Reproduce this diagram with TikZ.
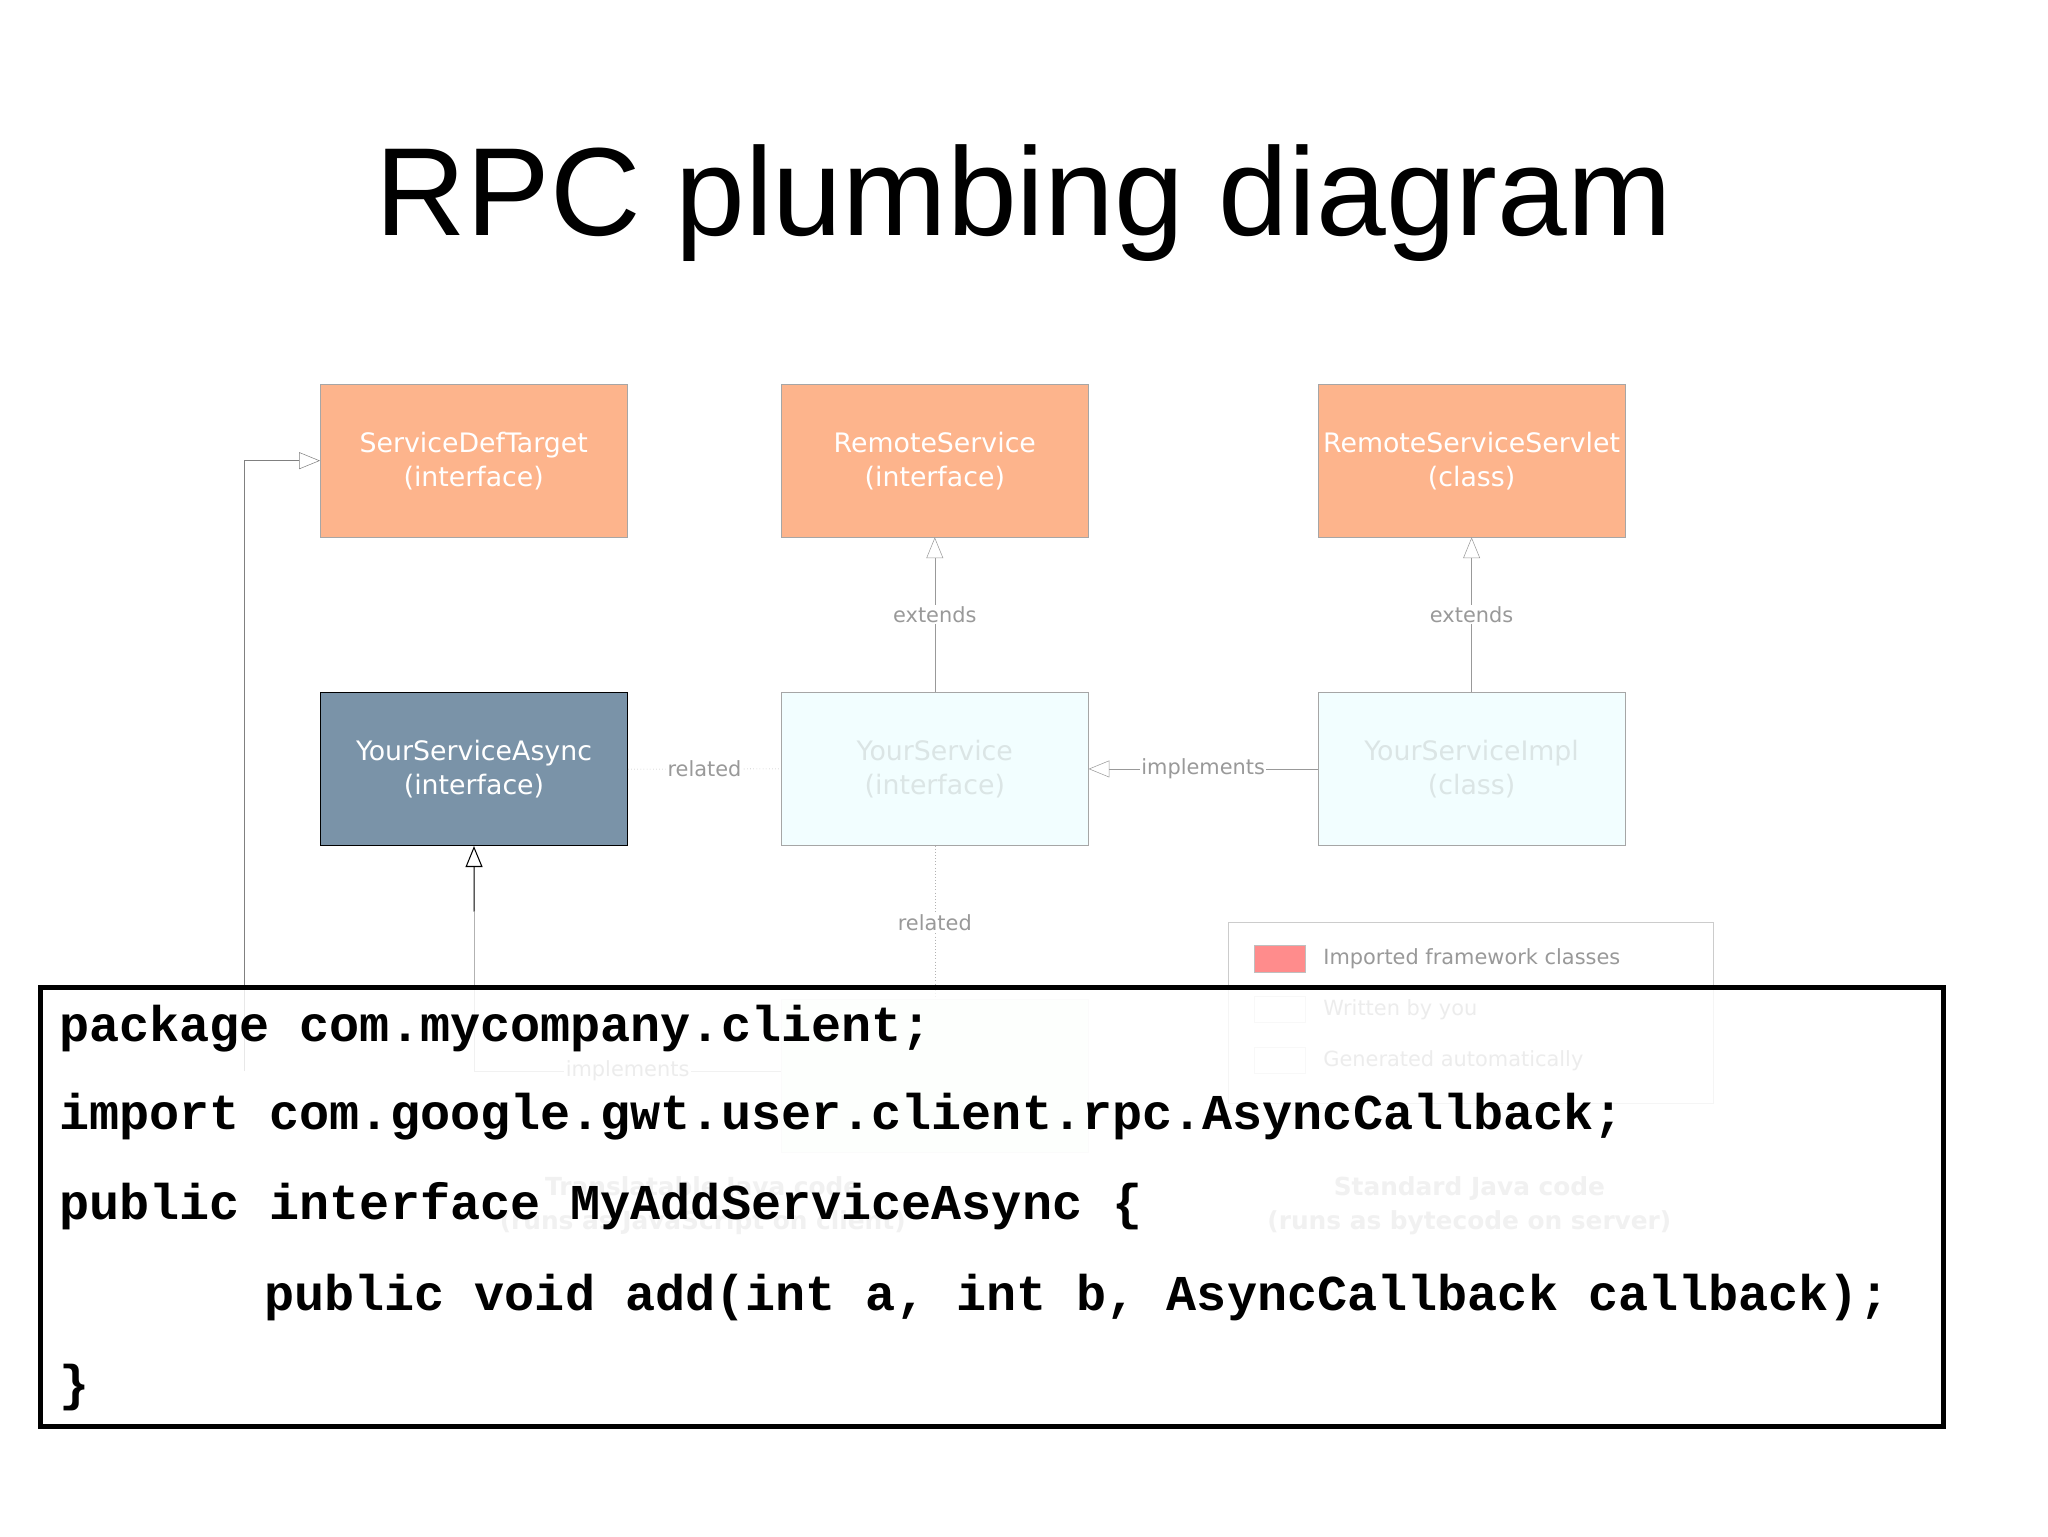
\documentclass[tikz,border=0pt]{standalone}
\usepackage{fontspec}
\setmainfont{Liberation Sans}
\newfontfamily\boxfont{DejaVu Sans}
\newfontfamily\codefont{Liberation Mono}
\usetikzlibrary{arrows.meta}
\definecolor{orng}{HTML}{FDB48C}
\definecolor{slate}{HTML}{7A93A8}
\definecolor{cyanl}{HTML}{F2FEFF}
\definecolor{txtg}{HTML}{999999}
\begin{document}
\begin{tikzpicture}[x=1pt,y=-1pt,
  cls/.style={draw=gray!70,minimum width=235pt,minimum height=117pt,inner sep=0pt,font=\boxfont\fontsize{20.5}{26}\selectfont,align=center,text=white,anchor=north west},
  imp/.style={cls,fill=orng},
  gen/.style={cls,fill=cyanl,text=cyanl!80!gray},
  lbl/.style={font=\boxfont\fontsize{16}{18}\selectfont,text=txtg,fill=white,inner sep=1pt},
  tri/.style={-{Triangle[open,length=16pt,width=13pt]}},
  code/.style={font=\codefont\bfseries\fontsize{38.4}{40}\selectfont,anchor=base west,inner sep=0pt}]
\useasboundingbox (0,0) rectangle (1568,1176);
\fill[white] (0,0) rectangle (1568,1176);
\node[font=\fontsize{96}{100}\selectfont,anchor=base] (title) at (784,180) {RPC plumbing diagram};
% row 1
\node[imp] (sdt) at (245,294) {ServiceDefTarget\\(interface)};
\node[imp] (rs) at (598,294) {RemoteService\\(interface)};
\node[imp] (rss) at (1009,294) {RemoteServiceServlet\\(class)};
% row 2
\node[cls,fill=slate,draw=black,thick] (ysa) at (245,530) {YourServiceAsync\\(interface)};
\node[gen] (ys) at (598,530) {YourService\\(interface)};
\node[gen] (ysi) at (1009,530) {YourServiceImpl\\(class)};
% row 3 (faint)
\node[cls,fill=green!3,draw=gray!15,text=white] (px) at (598,765) {};
% connectors
\draw[gray!80,tri] (ys.north) -- node[lbl]{extends} (rs.south);
\draw[gray!80,tri] (ysi.north) -- node[lbl]{extends} (rss.south);
\draw[gray!80,tri] (ysi.west) -- node[lbl]{implements} (ys.east);
\draw[gray!80,dotted] (ysa.east) -- node[lbl,pos=0.5]{related} (ys.west);
\draw[gray!60,dotted] (ys.south) -- node[lbl,pos=0.5]{related} (px.north);
\coordinate (c1) at (187,820);
\coordinate (c2) at (363,820);
\draw[gray,tri] (c1) |- (sdt.west);
\draw[black,thick,tri] (363,698) -- (ysa.south);
\draw[gray!60] (363,698) -- (c2) -- node[lbl]{implements} (px.west |- c2);
% legend
\draw[gray!40] (940,706) rectangle (1312,845);
\fill[red!45,draw=gray!50] (960,724) rectangle (999,744);
\node[lbl,anchor=west] at (1012,734) {Imported framework classes};
\draw[gray!30] (960,763) rectangle (999,783);
\node[lbl,anchor=west] at (1012,773) {Written by you};
\draw[gray!30] (960,802) rectangle (999,822);
\node[lbl,anchor=west] at (1012,812) {Generated automatically};
\node[font=\boxfont\bfseries\fontsize{19}{26}\selectfont,text=gray!60,align=center] (tj) at (538,923) {Translatable Java code\\(runs as JavaScript on client)};
\node[font=\boxfont\bfseries\fontsize{19}{26}\selectfont,text=gray!60,align=center] (sj) at (1125,923) {Standard Java code\\(runs as bytecode on server)};
% code box
\draw[line width=3.5pt,fill=white,fill opacity=0.82] (31,756) rectangle (1488,1092);
\node[code] (l1) at (45,797) {package com.mycompany.client;};
\node[code] (l2) at (45,865) {import com.google.gwt.user.client.rpc.AsyncCallback;};
\node[code] (l3) at (45,934) {public interface MyAddServiceAsync \{};
\node[code] (l4) at (202,1003) {public void add(int a, int b, AsyncCallback callback);};
\node[code] (l5) at (45,1072) {\}};
\end{tikzpicture}
\end{document}
